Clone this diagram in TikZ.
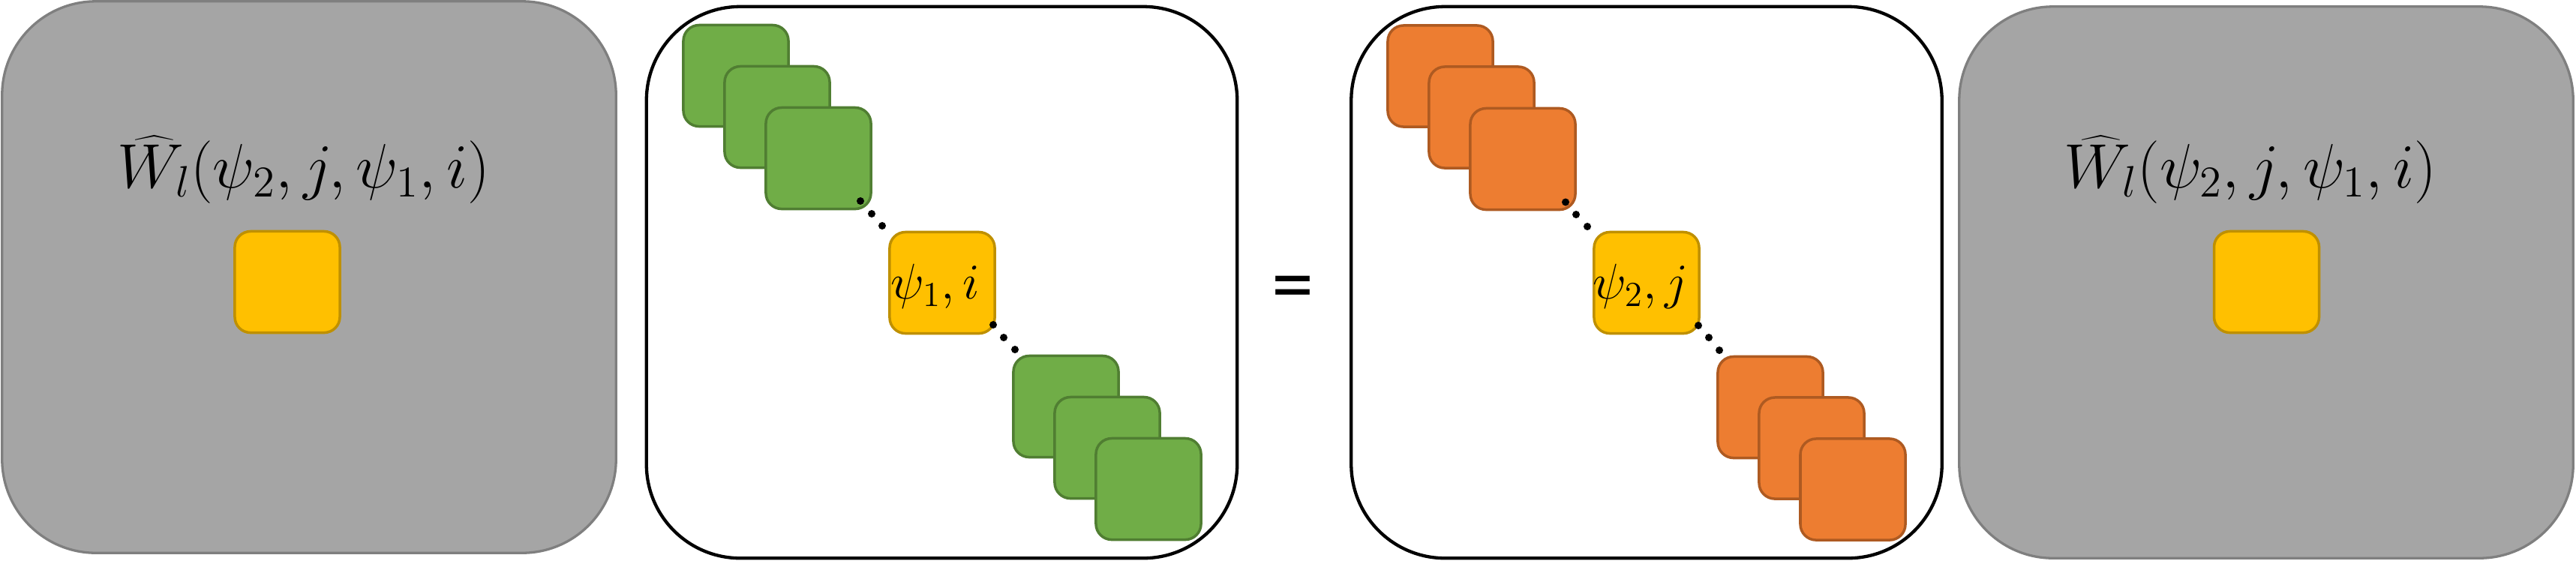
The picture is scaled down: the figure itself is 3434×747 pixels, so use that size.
\RequirePackage{fix-cm}
\documentclass[tikz,border=0pt]{standalone}
\usepackage{fontspec}
\newfontfamily\eqfont{Carlito}
\definecolor{panelgray}{HTML}{A5A5A5}
\definecolor{panelgrayline}{HTML}{7F7F7F}
\definecolor{tgreen}{HTML}{70AD47}
\definecolor{tgreenline}{HTML}{507E32}
\definecolor{torange}{HTML}{ED7D31}
\definecolor{torangeline}{HTML}{AE5A21}
\definecolor{tyellow}{HTML}{FFC000}
\definecolor{tyellowline}{HTML}{BF9000}
\begin{document}
\begin{tikzpicture}[x=0.01cm,y=-0.01cm,
  panel/.style={draw, rounded corners=1.25cm, minimum width=7.87cm, minimum height=7.35cm, inner sep=0pt},
  graypanel/.style={panel, fill=panelgray, draw=panelgrayline, line width=0.033cm, minimum width=8.18cm},
  whitepanel/.style={panel, fill=white, draw=black, line width=0.043cm},
  tile/.style={draw, rounded corners=0.21cm, minimum width=1.40cm, minimum height=1.35cm, line width=0.035cm, inner sep=0pt},
  gtile/.style={tile, fill=tgreen, draw=tgreenline},
  otile/.style={tile, fill=torange, draw=torangeline},
  ytile/.style={tile, fill=tyellow, draw=tyellowline},
  dotmark/.style={circle, fill=black, inner sep=0pt, minimum size=0.1cm},
  bigmath/.style={anchor=base, inner sep=0pt, font=\fontsize{23.8pt}{28pt}\selectfont},
  smallmath/.style={anchor=base, inner sep=0pt, font=\fontsize{19pt}{23pt}\selectfont}
]
\useasboundingbox (0,0) rectangle (3434,747);

% left gray panel
\node[graypanel] (p1) at (412,369.5) {};
\node[bigmath] (t1) at (405,250) {$\widehat{W_l}(\psi_2, j, \psi_1, i)$};
\node[ytile] (y1) at (383,376) {};

% second panel (green)
\node[whitepanel] (p2) at (1255.5,376.5) {};
\node[gtile] (g1) at (981,101) {};
\node[gtile] (g2) at (1036,156) {};
\node[gtile] (g3) at (1091,211) {};
\node[ytile] (y2) at (1256,377) {};
\node[smallmath] (l2) at (1247,398) {$\psi_1, i$};
\node[gtile] (g4) at (1421,542) {};
\node[gtile] (g5) at (1476,597) {};
\node[gtile] (g6) at (1531,652) {};
\node[dotmark] (a1) at (1147,268) {};
\node[dotmark] (a2) at (1162,285) {};
\node[dotmark] (a3) at (1176,301) {};
\node[dotmark] (a4) at (1324,433) {};
\node[dotmark] (a5) at (1338,450) {};
\node[dotmark] (a6) at (1353,466) {};

% equals sign
\node[inner sep=0pt] (eq) at (1723,392) {\eqfont\fontsize{32pt}{38pt}\selectfont =};

% third panel (orange)
\node[whitepanel] (p3) at (2195,376.5) {};
\node[otile] (o1) at (1920,101.5) {};
\node[otile] (o2) at (1975,156.5) {};
\node[otile] (o3) at (2030,212) {};
\node[ytile] (y3) at (2195,377) {};
\node[smallmath] (l3) at (2187,398) {$\psi_2, j$};
\node[otile] (o4) at (2360,543) {};
\node[otile] (o5) at (2415,597.5) {};
\node[otile] (o6) at (2470,652.5) {};
\node[dotmark] (b1) at (2087,269.5) {};
\node[dotmark] (b2) at (2101,286) {};
\node[dotmark] (b3) at (2116,302) {};
\node[dotmark] (b4) at (2264,434) {};
\node[dotmark] (b5) at (2278,450) {};
\node[dotmark] (b6) at (2292,467) {};

% right gray panel
\node[graypanel] (p4) at (3021,376.5) {};
\node[bigmath] (t4) at (3000,250) {$\widehat{W_l}(\psi_2, j, \psi_1, i)$};
\node[ytile] (y4) at (3021.5,376) {};
\end{tikzpicture}
\end{document}
